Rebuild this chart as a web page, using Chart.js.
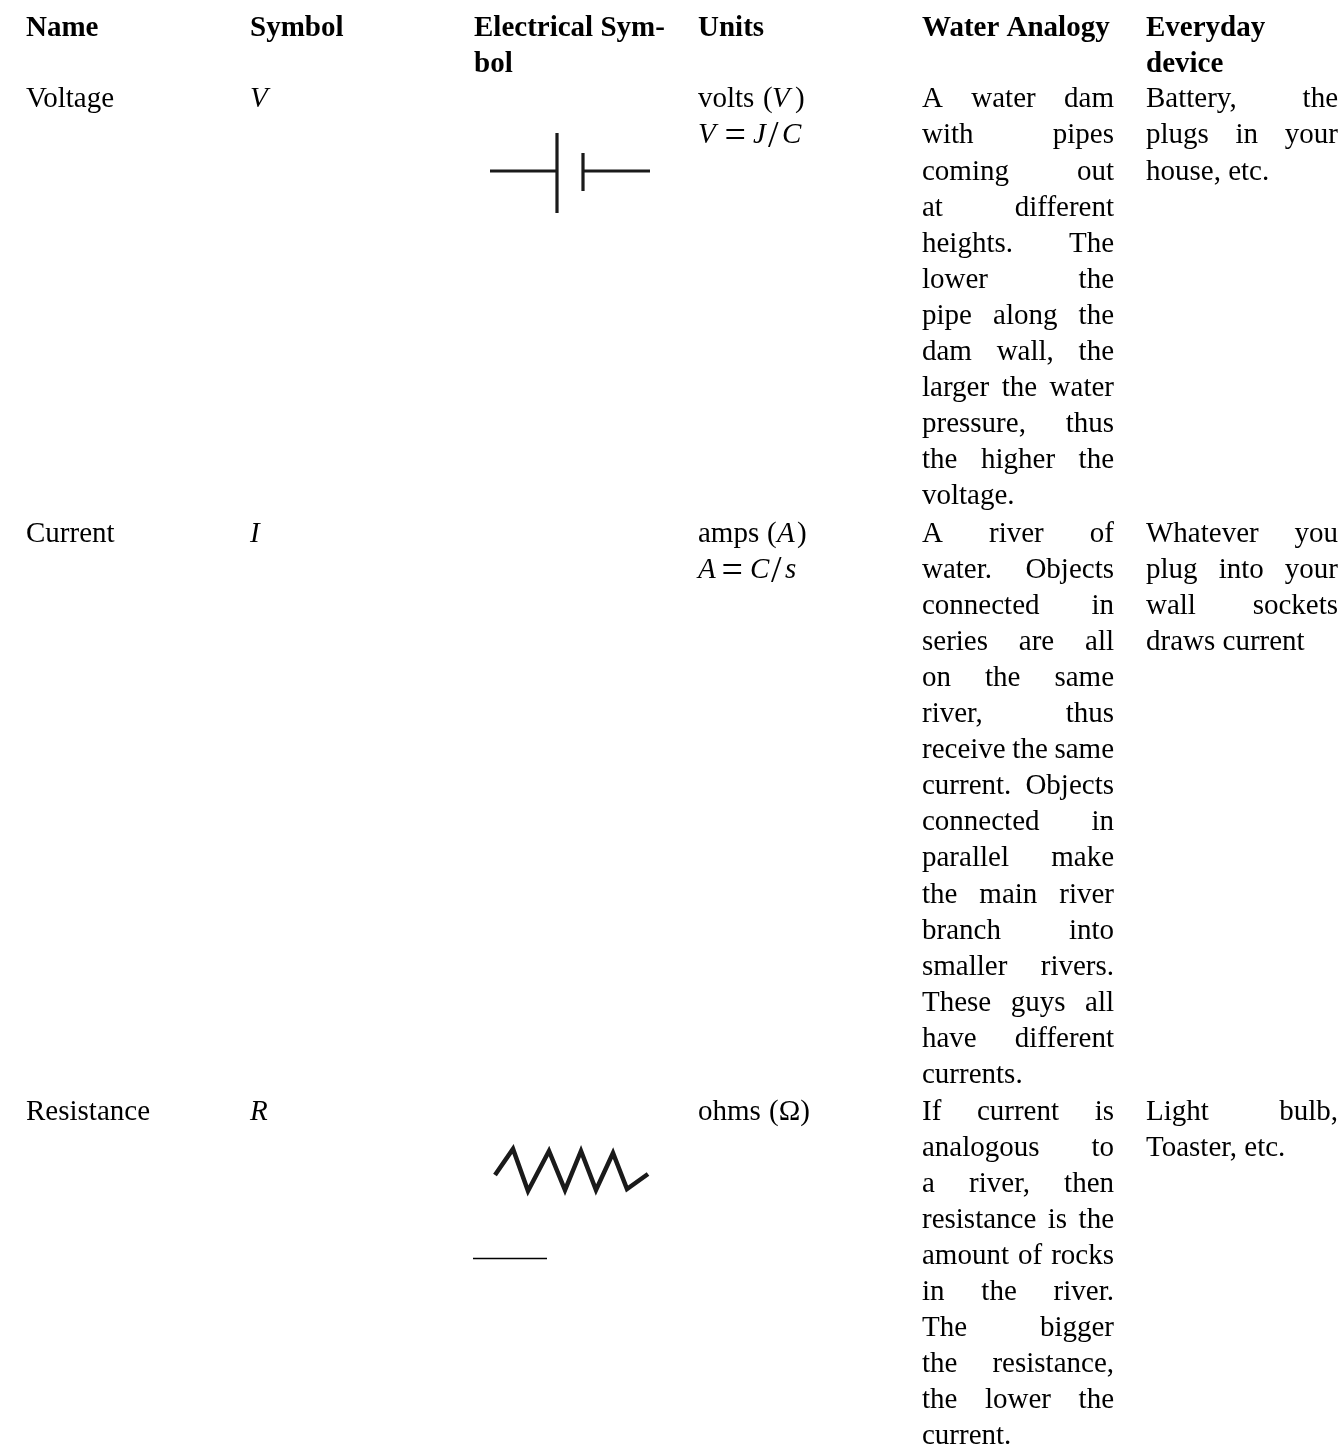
<!DOCTYPE html>
<html>
<head>
<meta charset="utf-8">
<style>
  html, body { margin: 0; padding: 0; background: #fff; }
  #wrap { width: 1342px; height: 1450px; position: relative; }
</style>
<script src="https://cdn.jsdelivr.net/npm/chart.js@4"></script>
</head>
<body>
<div id="wrap"><canvas id="table-chart"></canvas></div>
<script>
const columnNames = ["Name", "Symbol", "Electrical Sym-", "Units", "Water Analogy", "Everyday"];
const columnNames2 = ["", "", "bol", "", "", "device"];

const rowNames = ["Voltage", "Current", "Resistance"];
const rowSymbols = ["V", "I", "R"];

const voltageWater = ["A water dam", "with pipes", "coming out", "at different", "heights. The", "lower the", "pipe along the", "dam wall, the", "larger the water", "pressure, thus", "the higher the"];
const voltageWaterEnd = "voltage.";
const currentWater = ["A river of", "water. Objects", "connected in", "series are all", "on the same", "river, thus", "receive the same", "current. Objects", "connected in", "parallel make", "the main river", "branch into", "smaller rivers.", "These guys all", "have different"];
const currentWaterEnd = "currents.";
const resistanceWater = ["If current is", "analogous to", "a river, then", "resistance is the", "amount of rocks", "in the river.", "The bigger", "the resistance,", "the lower the"];
const resistanceWaterEnd = "current.";

const voltageDevice = ["Battery, the", "plugs in your"];
const voltageDeviceEnd = "house, etc.";
const currentDevice = ["Whatever you", "plug into your", "wall sockets"];
const currentDeviceEnd = "draws current";
const resistanceDevice = ["Light bulb,"];
const resistanceDeviceEnd = "Toaster, etc.";

// units column, split where the font changes: [text, x, italic, big]
const voltsLine = [["volts", 698, false], ["(", 763, false], ["V", 772, true], [")", 795, false]];
const voltsFormula = [["V", 698, true], ["=", 724.5, false, true], ["J", 753, true], ["/", 768, false, true], ["C", 782, true]];
const ampsLine = [["amps", 698, false], ["(", 767, false], ["A", 777, true], [")", 797, false]];
const ampsFormula = [["A", 698, true], ["=", 721.5, false, true], ["C", 750, true], ["/", 771, false, true], ["s", 785, true]];
const ohmsLine = [["ohms", 698, false], ["(Ω)", 769, false]];

// x position of each column and the line pitch, in page units
const columnX = [26, 250, 474, 698, 922, 1146];
const columnWidth = 192;
const lineHeight = 36.1;
const headerY = 35.5;
const rowY = [107.3, 541.5, 1119.5];

// symbol strokes
const batteryLongX = [490, 557];
const batteryLongY = [171, 171];
const batteryPlateX = [557, 557];
const batteryPlateY = [133, 213];
const batteryShortPlateX = [583, 583];
const batteryShortPlateY = [153, 191];
const batteryShortX = [583, 650];
const batteryShortY = [171, 171];
const resistorX = [495, 513, 528, 549, 565, 581, 596, 613, 627, 648];
const resistorY = [1175, 1149, 1191, 1151, 1190, 1151, 1190, 1153, 1189, 1174];
const ruleX = [473, 547];
const ruleY = [1258.5, 1258.5];

const toPoints = (xs, ys) => xs.map((x, i) => ({ x: x, y: ys[i] }));

const serif = '"Liberation Serif", "Times New Roman", serif';
const fontSize = 29;
const mathSize = 38;

function justified(ctx, scales, text, col, yVal) {
  const x = scales.x.getPixelForValue(columnX[col]);
  const y = scales.y.getPixelForValue(yVal);
  const words = text.split(" ");
  const w = words.reduce((s, t) => s + ctx.measureText(t).width, 0);
  const gap = (columnWidth - w) / (words.length - 1);
  let cur = x;
  words.forEach(t => {
    ctx.fillText(t, cur, y);
    cur += ctx.measureText(t).width + gap;
  });
}

function block(ctx, scales, lines, last, col, top) {
  lines.forEach((l, i) => justified(ctx, scales, l, col, top + i * lineHeight));
  ctx.fillText(last, scales.x.getPixelForValue(columnX[col]), scales.y.getPixelForValue(top + lines.length * lineHeight));
}

function runs(ctx, scales, parts, yVal) {
  parts.forEach(p => {
    const size = p[3] ? mathSize : fontSize;
    ctx.font = (p[2] ? "italic " : "") + size + "px " + serif;
    // the larger operators sit a bit lower so they stay centred on the line
    const y = p[3] ? yVal + 4 : yVal;
    ctx.fillText(p[0], scales.x.getPixelForValue(p[1]), scales.y.getPixelForValue(y));
  });
}

const tableText = {
  id: "tableText",
  afterDatasetsDraw(chart) {
    const ctx = chart.ctx;
    const s = chart.scales;
    const px = v => s.x.getPixelForValue(v);
    const py = v => s.y.getPixelForValue(v);
    ctx.save();
    ctx.fillStyle = "#000";
    ctx.textBaseline = "alphabetic";
    ctx.textAlign = "left";

    ctx.font = "bold " + fontSize + "px " + serif;
    columnNames.forEach((t, i) => ctx.fillText(t, px(columnX[i]), py(headerY)));
    columnNames2.forEach((t, i) => ctx.fillText(t, px(columnX[i]), py(headerY + lineHeight)));

    ctx.font = fontSize + "px " + serif;
    rowNames.forEach((t, i) => ctx.fillText(t, px(columnX[0]), py(rowY[i])));

    ctx.font = "italic " + fontSize + "px " + serif;
    rowSymbols.forEach((t, i) => ctx.fillText(t, px(columnX[1]), py(rowY[i])));

    ctx.font = fontSize + "px " + serif;
    block(ctx, s, voltageWater, voltageWaterEnd, 4, rowY[0]);
    block(ctx, s, currentWater, currentWaterEnd, 4, rowY[1]);
    block(ctx, s, resistanceWater, resistanceWaterEnd, 4, rowY[2]);
    block(ctx, s, voltageDevice, voltageDeviceEnd, 5, rowY[0]);
    block(ctx, s, currentDevice, currentDeviceEnd, 5, rowY[1]);
    block(ctx, s, resistanceDevice, resistanceDeviceEnd, 5, rowY[2]);

    runs(ctx, s, voltsLine, rowY[0]);
    runs(ctx, s, voltsFormula, rowY[0] + lineHeight);
    runs(ctx, s, ampsLine, rowY[1]);
    runs(ctx, s, ampsFormula, rowY[1] + lineHeight);
    runs(ctx, s, ohmsLine, rowY[2]);
    ctx.restore();
  }
};

const stroke = (xs, ys, width, color) => ({
  data: toPoints(xs, ys),
  showLine: true,
  borderColor: color,
  borderWidth: width,
  pointRadius: 0,
  tension: 0
});

new Chart("table-chart", {
  type: "scatter",
  data: {
    datasets: [
      stroke(batteryLongX, batteryLongY, 3.2, "#1a1a1a"),
      stroke(batteryPlateX, batteryPlateY, 3.2, "#1a1a1a"),
      stroke(batteryShortPlateX, batteryShortPlateY, 3.2, "#1a1a1a"),
      stroke(batteryShortX, batteryShortY, 3.2, "#1a1a1a"),
      stroke(resistorX, resistorY, 4.5, "#1a1a1a"),
      stroke(ruleX, ruleY, 1.3, "#000")
    ]
  },
  options: {
    responsive: true,
    maintainAspectRatio: false,
    animation: false,
    layout: { padding: 0 },
    plugins: { legend: { display: false }, title: { display: false }, tooltip: { enabled: false } },
    scales: {
      x: { type: "linear", min: 0, max: 1342, display: false },
      y: { type: "linear", min: 0, max: 1450, reverse: true, display: false }
    }
  },
  plugins: [tableText]
});
</script>
</body>
</html>
